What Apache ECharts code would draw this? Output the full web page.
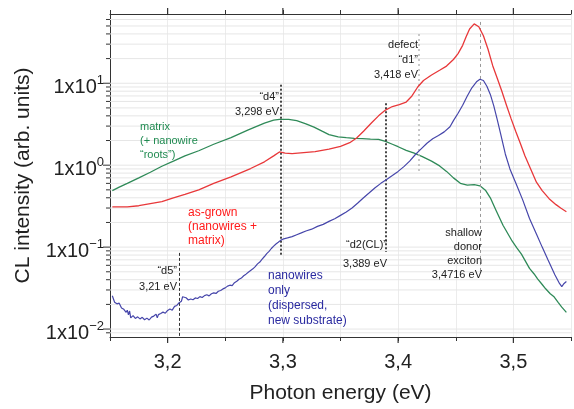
<!DOCTYPE html>
<html><head><meta charset="utf-8">
<script src="https://cdn.jsdelivr.net/npm/echarts@6/dist/echarts.min.js"></script>
<style>html,body{margin:0;padding:0;background:#fff}#c{width:574px;height:409px}</style>
</head><body><div id="c"></div>
<script>
// ---- data (photon energy eV, CL intensity arb. units) ----
const matrix = [[3.152,0.49],[3.158,0.54],[3.165,0.60],[3.175,0.70],[3.185,0.82],[3.195,0.97],[3.205,1.12],[3.215,1.30],[3.227,1.50],[3.240,1.80],[3.255,2.17],[3.270,2.70],[3.284,3.26],[3.292,3.55],[3.297,3.63],[3.305,3.62],[3.312,3.50],[3.320,3.20],[3.327,2.92],[3.334,2.60],[3.340,2.36],[3.348,2.22],[3.355,2.17],[3.362,2.13],[3.369,2.11],[3.376,2.08],[3.383,2.06],[3.389,1.95],[3.395,1.80],[3.400,1.68],[3.407,1.52],[3.414,1.40],[3.421,1.27],[3.429,1.12],[3.436,0.98],[3.442,0.84],[3.448,0.70],[3.454,0.60],[3.460,0.57],[3.466,0.58],[3.471,0.56],[3.476,0.49],[3.480,0.40],[3.485,0.28],[3.491,0.185],[3.499,0.118],[3.503,0.098],[3.507,0.082],[3.514,0.055],[3.518,0.047],[3.521,0.041],[3.525,0.035],[3.528,0.031],[3.532,0.027],[3.535,0.025],[3.539,0.021],[3.542,0.0185],[3.546,0.016]];
const asGrown = [[3.152,0.31],[3.165,0.31],[3.175,0.32],[3.185,0.34],[3.195,0.36],[3.205,0.40],[3.215,0.44],[3.227,0.50],[3.240,0.60],[3.255,0.72],[3.272,0.91],[3.284,1.10],[3.292,1.30],[3.297,1.45],[3.302,1.40],[3.308,1.38],[3.318,1.42],[3.328,1.46],[3.340,1.57],[3.350,1.70],[3.358,1.88],[3.364,2.15],[3.370,2.6],[3.377,3.3],[3.383,4.0],[3.389,4.7],[3.395,5.2],[3.401,5.5],[3.407,5.9],[3.412,7.0],[3.417,9.0],[3.422,10.8],[3.429,12.6],[3.436,14.4],[3.442,16.2],[3.448,19.5],[3.452,23],[3.456,29],[3.459,37],[3.462,46],[3.466,53],[3.470,49],[3.474,38],[3.478,26],[3.482,16.5],[3.486,11.5],[3.490,8.0],[3.494,5.4],[3.498,3.7],[3.502,2.6],[3.506,1.85],[3.510,1.30],[3.515,0.90],[3.520,0.62],[3.525,0.49],[3.531,0.39],[3.537,0.33],[3.541,0.30],[3.546,0.27]];
const nanowires = [[3.152,0.0255],[3.154,0.0212],[3.156,0.0203],[3.158,0.0207],[3.160,0.0181],[3.162,0.0174],[3.164,0.0160],[3.165,0.0170],[3.166,0.0149],[3.167,0.0166],[3.168,0.0137],[3.170,0.0146],[3.172,0.0135],[3.174,0.0141],[3.176,0.0133],[3.178,0.0139],[3.180,0.0130],[3.182,0.0136],[3.184,0.0129],[3.186,0.0140],[3.188,0.0144],[3.190,0.0152],[3.191,0.0137],[3.192,0.0150],[3.194,0.0155],[3.196,0.0161],[3.198,0.0156],[3.200,0.0169],[3.202,0.0176],[3.204,0.0170],[3.206,0.0189],[3.208,0.0194],[3.210,0.0210],[3.212,0.0219],[3.213,0.0248],[3.214,0.0236],[3.216,0.0241],[3.218,0.0226],[3.220,0.0233],[3.222,0.0228],[3.224,0.0240],[3.226,0.0236],[3.228,0.0249],[3.230,0.0243],[3.232,0.0256],[3.234,0.0262],[3.236,0.0254],[3.238,0.0270],[3.240,0.0276],[3.242,0.0272],[3.244,0.0289],[3.246,0.0296],[3.248,0.0309],[3.250,0.0318],[3.252,0.0334],[3.254,0.0343],[3.256,0.0339],[3.258,0.0368],[3.260,0.0384],[3.262,0.0406],[3.264,0.0419],[3.266,0.0447],[3.268,0.0468],[3.270,0.0494],[3.272,0.0518],[3.274,0.0543],[3.276,0.0578],[3.278,0.0624],[3.280,0.0658],[3.282,0.0712],[3.284,0.0768],[3.286,0.0834],[3.288,0.0887],[3.290,0.0962],[3.292,0.1028],[3.294,0.1093],[3.296,0.1146],[3.298,0.1208],[3.300,0.1250],[3.304,0.1296],[3.308,0.1345],[3.312,0.1418],[3.316,0.1492],[3.320,0.1575],[3.325,0.1655],[3.330,0.1790],[3.335,0.1895],[3.340,0.2060],[3.345,0.2220],[3.350,0.2440],[3.355,0.2680],[3.360,0.3000],[3.365,0.3450],[3.370,0.4000],[3.375,0.4600],[3.380,0.5300],[3.385,0.6000],[3.390,0.6700],[3.395,0.7500],[3.400,0.8400],[3.405,0.9600],[3.410,1.12],[3.415,1.35],[3.420,1.58],[3.425,1.85],[3.430,2.10],[3.435,2.30],[3.440,2.55],[3.445,2.95],[3.448,3.50],[3.452,4.30],[3.456,5.40],[3.460,7.00],[3.464,8.80],[3.468,10.4],[3.471,11.2],[3.474,10.8],[3.477,9.2],[3.480,7.3],[3.483,5.3],[3.486,3.6],[3.489,2.4],[3.493,1.37],[3.497,0.90],[3.502,0.61],[3.508,0.38],[3.514,0.224],[3.520,0.145],[3.525,0.100],[3.530,0.070],[3.536,0.046],[3.540,0.036],[3.542,0.033],[3.544,0.036],[3.546,0.038]];

// axis ranges & ticks
const xMin = 3.15, xMax = 3.55;
const yMin = 0.008, yMax = 70;
const xMajor = [3.2, 3.3, 3.4, 3.5];
const yDecades = [0.01, 0.1, 1, 10];
const yMinor = [0.009,0.02,0.03,0.04,0.05,0.06,0.07,0.08,0.09,0.2,0.3,0.4,0.5,0.6,0.7,0.8,0.9,2,3,4,5,6,7,8,9,20,30,40,50,60];

// marker lines: energy, top value, bottom value
const markerE   = [3.21, 3.298, 3.389, 3.418, 3.4716];
const markerTop = [0.085, 9.6, 5.7, 40, 56];
const markerBot = [0.008, 0.080, 0.087, 0.80, 0.051];

const FONT = "'Liberation Sans', Arial, sans-serif";
const chart = echarts.init(document.getElementById('c'), null, {renderer:'canvas'});

const markerStyles = [
  {color:'#333', type:[3,2], width:1},
  {color:'#333', type:[2,2], width:1.8},
  {color:'#333', type:[2,2], width:1.8},
  {color:'#b8b8b8', type:[2,3], width:1.5},
  {color:'#999', type:[3,3], width:1}
];

const markLineData = markerE.map((e,i)=>[
  {coord:[e, markerTop[i]], lineStyle:markerStyles[i]},
  {coord:[e, markerBot[i]]}
]);

const gridVals = yDecades.concat(yMinor);

function txt(x, y, text, color, align, size, lh){
  return {type:'text', x:x, y:y, silent:true, z:50, style:{text:text, fill:color, font:(size||12)+'px '+FONT, textAlign:align||'left', textVerticalAlign:'top', align:align||'left', verticalAlign:'top', lineHeight:lh||14}};
}

chart.setOption({
  animation:false,
  backgroundColor:'#fff',
  grid:{left:110, right:-6, top:14, bottom:59, containLabel:false},
  xAxis:[{
    type:'value', min:xMin, max:xMax, interval:0.05, position:'bottom',
    axisLine:{show:true, onZero:false, lineStyle:{color:'#333', width:1}},
    axisTick:{show:true, length:4, lineStyle:{color:'#333'}},
    axisLabel:{margin:15, fontSize:20, color:'#222', fontFamily:FONT,
      formatter:v=>{const r=Math.round(v*100); return (r%10===0)? (r/100).toFixed(1).replace('.',','):'';}},
    splitLine:{show:true, lineStyle:{color:'#ececec', width:1}},
    name:'Photon energy (eV)', nameLocation:'middle', nameGap:46,
    nameTextStyle:{fontSize:21, color:'#222', fontFamily:FONT}
  },{
    type:'value', min:xMin, max:xMax, interval:0.05, position:'top',
    axisLine:{show:true, onZero:false, lineStyle:{color:'#333', width:1}},
    axisTick:{show:true, length:4, lineStyle:{color:'#333'}},
    axisLabel:{show:false}, splitLine:{show:false}
  }],
  yAxis:{
    type:'log', logBase:10, min:yMin, max:yMax,
    axisLine:{show:true, onZero:false, lineStyle:{color:'#333', width:1}},
    axisTick:{show:false},
    splitLine:{show:false},
    axisLabel:{margin:6, color:'#222', fontFamily:FONT, padding:[5,0,0,0],
      formatter:v=>{const l=Math.log10(v); const e=Math.round(l); if(Math.abs(l-e)>1e-3) return ''; const s = e<0? '\u2212'+(-e) : ''+e; return '{b|1x10}{s|'+s+'}';},
      rich:{
        b:{fontSize:20, fontFamily:FONT, color:'#222', verticalAlign:'bottom', lineHeight:24},
        s:{fontSize:13, fontFamily:FONT, color:'#222', verticalAlign:'top', lineHeight:24}
      }},
    name:'CL intensity (arb. units)', nameLocation:'middle', nameGap:76, nameRotate:90,
    nameTextStyle:{fontSize:21, color:'#222', fontFamily:FONT}
  },
  series:[
    {
      type:'custom', silent:true, z:1, clip:false,
      data:gridVals.map(v=>[xMin, v]),
      renderItem:(p, api)=>{
        const v = api.value(1);
        const a = api.coord([xMin, v]), b = api.coord([xMax, v]);
        const major = yDecades.some(d=>Math.abs(d/v-1)<1e-6);
        return {type:'group', children:[
          {type:'line', shape:{x1:a[0], y1:a[1], x2:b[0], y2:b[1]}, style:{stroke:'#e6e6e6', lineWidth:1}},
          {type:'line', z2:10, shape:{x1:a[0]-(major?7:4), y1:a[1], x2:a[0], y2:a[1]}, style:{stroke:'#333', lineWidth:1}}
        ]};
      }
    },
    {
      type:'custom', silent:true, z:3, clip:false,
      data:xMajor.map(x=>[x, yMin]),
      renderItem:(p, api)=>{
        const x = api.value(0);
        const a = api.coord([x, yMin]), b = api.coord([x, yMax]);
        return {type:'group', children:[
          {type:'line', shape:{x1:a[0], y1:a[1], x2:a[0], y2:a[1]+6}, style:{stroke:'#333', lineWidth:1.2}},
          {type:'line', shape:{x1:b[0], y1:b[1], x2:b[0], y2:b[1]-6}, style:{stroke:'#333', lineWidth:1.2}}
        ]};
      }
    },
    {
      name:'matrix', type:'line', data:matrix, showSymbol:false, smooth:false, z:4,
      lineStyle:{color:'#2f8a58', width:1.3}, itemStyle:{color:'#2f8a58'},
      markLine:{silent:true, symbol:['none','none'], label:{show:false}, data:markLineData}
    },
    {
      name:'as-grown', type:'line', data:asGrown, showSymbol:false, z:5,
      lineStyle:{color:'#e8383a', width:1.3}, itemStyle:{color:'#e8383a'}
    },
    {
      name:'nanowires', type:'line', data:nanowires, showSymbol:false, z:6,
      lineStyle:{color:'#4646aa', width:1.2}, itemStyle:{color:'#4646aa'}
    }
  ],
  graphic:[
    txt(140, 120, 'matrix\n(+ nanowire\n\u201croots\u201d)', '#1f8a50', 'left', 11, 14),
    txt(188, 206, 'as-grown\n(nanowires +\nmatrix)', '#ff1a1a', 'left', 12, 14),
    txt(268, 268, 'nanowires\nonly\n(dispersed,\nnew substrate)', '#2a2aa0', 'left', 12, 15),
    txt(177, 263, '\u201cd5\u201d\n3,21 eV', '#222', 'right', 11, 16),
    txt(279, 89, '\u201cd4\u201d\n3,298 eV', '#222', 'right', 11, 15),
    txt(387, 235, '\u201cd2(CL)\u201d\n3,389 eV', '#222', 'right', 11, 19),
    txt(418, 37, 'defect\n\u201cd1\u201d\n3,418 eV', '#222', 'right', 11, 15),
    txt(482, 226, 'shallow\ndonor\nexciton\n3,4716 eV', '#222', 'right', 11, 14)
  ]
});
</script></body></html>
